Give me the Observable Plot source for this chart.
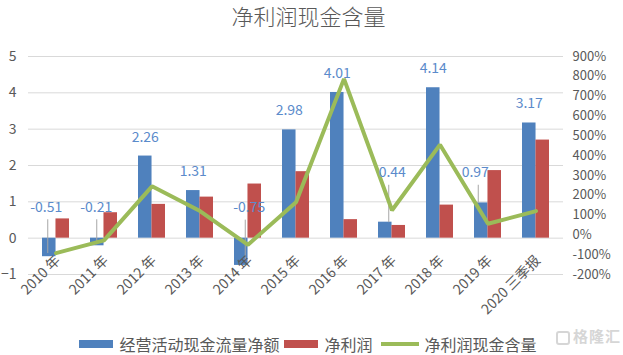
<!DOCTYPE html>
<html><head><meta charset="utf-8">
<script src="https://cdn.jsdelivr.net/npm/d3@7"></script>
<script src="https://cdn.jsdelivr.net/npm/@observablehq/plot@0.6"></script>
<style>
body{margin:0;background:#fff;font-family:"Noto Sans CJK SC","Noto Sans",sans-serif;}
#wrap{position:relative;width:623px;height:355px;overflow:hidden;}
#title{height:32px;line-height:30px;text-align:center;font-size:22px;font-weight:300;color:#595959;padding-right:6px;}
#chart svg{display:block;}
#legend{height:23px;display:flex;justify-content:center;align-items:center;font-size:16px;color:#595959;padding-right:2px;}
.sw{display:inline-block;width:34px;height:8px;margin-right:6px;}
.ln{display:inline-block;width:38px;height:4px;margin-right:6px;background:#9BBB59;}
.item{display:flex;align-items:center;margin-right:5px;}
#wm{position:absolute;left:556px;top:325px;color:#d6d6d6;font-size:15px;font-weight:bold;letter-spacing:1px;}
#wm span{display:inline-block;width:14px;height:14px;border:2px solid #d6d6d6;border-radius:3px;vertical-align:-3px;margin-right:3px;box-sizing:border-box;}
</style></head>
<body>
<div id="wrap">
<div id="title">净利润现金含量</div>
<div id="chart"></div>
<div id="legend"></div>
<div id="wm"><span></span>格隆汇</div>
</div>
<script>
// ---- data ----
const years = ["2010年","2011年","2012年","2013年","2014年","2015年","2016年","2017年","2018年","2019年","2020三季报"];
const tickLabels = ["2010 年","2011 年","2012 年","2013 年","2014 年","2015 年","2016 年","2017 年","2018 年","2019 年","2020 三季报"];
const cashFlow = [-0.51,-0.21,2.26,1.31,-0.75,2.98,4.01,0.44,4.14,0.97,3.17];
const netProfit = [0.53,0.70,0.93,1.13,1.49,1.83,0.51,0.35,0.91,1.86,2.70];
const cashRatio = [-92,-28,245,120,-50,165,787,124,455,56,120]; // percent
const leftTicks = [-1,0,1,2,3,4,5];
const rightTicks = [-200,-100,0,100,200,300,400,500,600,700,800,900];
const seriesNames = ["经营活动现金流量净额","净利润","净利润现金含量"];
const colors = ["#4F81BD","#C0504D","#9BBB59"];

// ---- chart ----
const yMin = -1, yMax = 5, pMin = -200, pMax = 900;
const pct2y = p => yMin + (p - pMin) * (yMax - yMin) / (pMax - pMin);
const rows = years.map((y,i)=>({year:y, tick:tickLabels[i], cash:cashFlow[i], profit:netProfit[i], ratio:pct2y(cashRatio[i])}));

// label layout for the labels drawn with leader lines
const leader = {"2010年":{y:0.85,dx:-3},"2011年":{y:0.85,dx:-1},"2014年":{y:0.84,dx:8},"2017年":{y:1.8,dx:7},"2019年":{y:1.8,dx:-6}};
const plain = rows.filter(d=>!leader[d.year]);
const led = rows.filter(d=>leader[d.year]);

const W = 623, H = 300, mL = 28, mR = 60;
const pi = 0.446, po = 0.223;
const step = (W - mL - mR) / (years.length - pi + 2*po);
const half = step*(1-pi)/2;

const font = "'Noto Sans CJK SC','Noto Sans',sans-serif";
const chart = Plot.plot({
  width: W, height: H,
  marginLeft: mL, marginRight: mR, marginTop: 24, marginBottom: 58,
  style: {fontFamily: font, background:"#fff"},
  x: {domain: years, paddingInner: pi, paddingOuter: po, axis: null},
  y: {domain: [yMin, yMax], axis: null},
  marks: [
    Plot.gridY(leftTicks, {stroke:"#d9d9d9", strokeOpacity:1, strokeWidth:1}),
    Plot.barY(rows, {x:"year", y:"cash", fill:colors[0], insetRight: half, insetLeft:0}),
    Plot.barY(rows, {x:"year", y:"profit", fill:colors[1], insetLeft: half, insetRight:0}),
    ...led.map(d => Plot.link([d], {x1:"year", x2:"year", y1: leader[d.year].y - 0.33, y2: d.cash < 0 ? d.cash*0.8 : d.cash, dx: leader[d.year].dx/2 - half/2, stroke:"#a6a6a6", strokeWidth:1})),
    Plot.text(rows, {x:"year", y:()=>0, text:"tick", rotate:-45, textAnchor:"end", lineAnchor:"middle", dx:2, dy:20, fontSize:14, fill:"#595959"}),
    Plot.line(rows, {x:"year", y:"ratio", stroke:colors[2], strokeWidth:4, strokeLinejoin:"miter"}),
    Plot.text(plain, {x:"year", y:"cash", text:d=>d.cash.toFixed(2), dx:-half/2, dy:-19, fontSize:14, fill:"#5B8BCB"}),
    ...led.map(d => Plot.text([d], {x:"year", y:()=>leader[d.year].y, text:dd=>dd.cash.toFixed(2), dx: -half/2 + leader[d.year].dx, fontSize:14, fill:"#5B8BCB"})),
    Plot.axisY(leftTicks, {anchor:"left", tickSize:0, tickPadding:12, fontSize:14, color:"#595959", label:null}),
    Plot.axisY(rightTicks.map(pct2y), {anchor:"right", tickSize:0, tickPadding:9, fontSize:13, color:"#595959", label:null,
      tickFormat: v => Math.round(pMin + (v - yMin)*(pMax-pMin)/(yMax-yMin)) + "%"})
  ]
});
document.getElementById("chart").appendChild(chart);

// ---- legend ----
const lg = document.getElementById("legend");
seriesNames.forEach((n,i)=>{
  const it = document.createElement("div"); it.className="item";
  if (i === 1) it.style.marginRight = "8px";
  const s = document.createElement("span");
  if (i < 2) { s.className="sw"; s.style.background = colors[i]; } else { s.className="ln"; }
  it.appendChild(s);
  it.appendChild(document.createTextNode(n));
  lg.appendChild(it);
});
</script>
</body></html>
